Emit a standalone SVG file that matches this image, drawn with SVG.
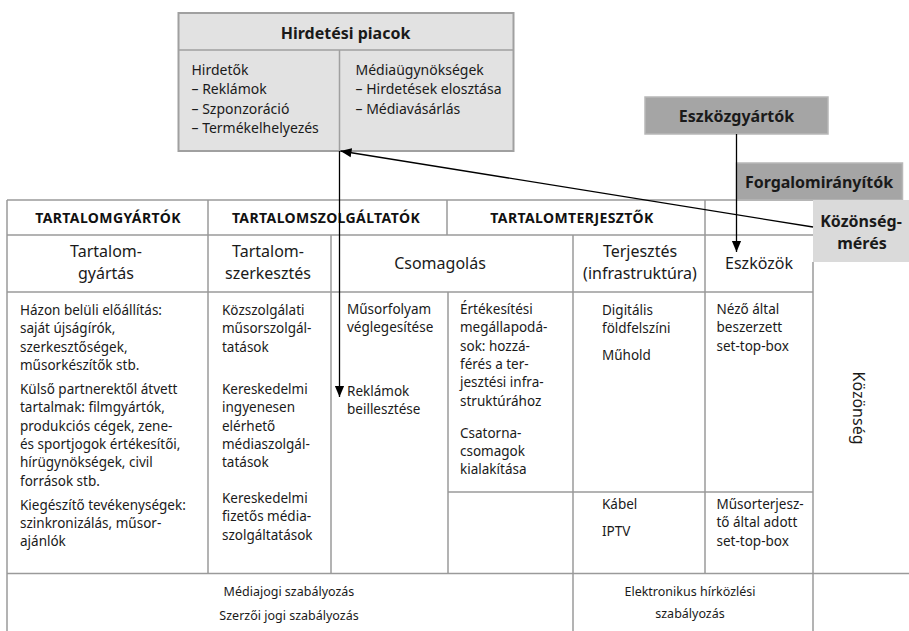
<svg xmlns="http://www.w3.org/2000/svg" width="909" height="631" viewBox="0 0 909 631">
<style>
.t{font-family:"Noto Sans","Liberation Sans",sans-serif;font-size:13.5px;fill:#1a1a1a}
.hb{font-size:14px}
.c{text-anchor:middle}
.b{font-weight:bold;font-size:16px}
.hd{font-family:"Noto Sans","Liberation Sans",sans-serif;font-size:14px;letter-spacing:0.4px;font-weight:bold;fill:#111;text-anchor:middle}
.r2{font-family:"Noto Sans","Liberation Sans",sans-serif;font-size:16px;fill:#1a1a1a;text-anchor:middle}
.bt{font-family:"Noto Sans","Liberation Sans",sans-serif;font-size:12.5px;fill:#1a1a1a;text-anchor:middle}
.g{stroke:#9a9a9a;stroke-width:1.5;fill:none}
.conn{stroke:#000;stroke-width:1.3;fill:none}
.lite{fill:#e2e2e2;stroke:#a0a0a0;stroke-width:2}
.dark{fill:#a5a5a5;stroke:#b8b8b8;stroke-width:1.5}
</style>
<defs>
<marker id="ah" viewBox="0 0 12 12" refX="12" refY="6" markerWidth="11" markerHeight="11" orient="auto" markerUnits="userSpaceOnUse"><path d="M0,1 L12,6 L0,11 z" fill="#000"/></marker>
</defs>
<rect width="909" height="631" fill="#fff"/>

<g id="table-grid">
<path class="g" d="M7,200 H813 M7,200 V631 M7,235 H813 M7,292 H813 M7,573.5 H909 M448,492 H813
M208,200 V573.5 M447,200 V235 M705,200 V573.5 M331,235 V573.5 M573,235 V631 M448,292 V573.5 M813,262 V631"/>
</g>

<g id="hirdetesi-piacok">
<rect class="lite" x="178.5" y="13" width="335" height="138"/>
<path class="g" d="M178.5,50 H513.5 M339.5,50 V151" style="stroke:#a0a0a0"/>
<text class="t b c" x="345.5" y="38.5">Hirdetési piacok</text>
<text class="t hb" x="191.5" y="74.7">Hirdetők</text>
<text class="t hb" x="191.5" y="94.2">– Reklámok</text>
<text class="t hb" x="191.5" y="113.7">– Szponzoráció</text>
<text class="t hb" x="191.5" y="133.2">– Termékelhelyezés</text>
<text class="t hb" x="355.5" y="74.7">Médiaügynökségek</text>
<text class="t hb" x="355.5" y="94.2">– Hirdetések elosztása</text>
<text class="t hb" x="355.5" y="113.7">– Médiavásárlás</text>
</g>

<g id="eszkozgyartok">
<rect class="dark" x="645" y="97" width="183" height="37"/>
<text class="t b c" x="736.5" y="122">Eszközgyártók</text>
</g>

<g id="forgalomiranyitok">
<rect class="dark" x="736.5" y="163" width="166" height="37"/>
<text class="t b c" x="819" y="188">Forgalomirányítók</text>
</g>

<g id="kozonsegmeres">
<rect x="813" y="200" width="96" height="62" fill="#dadada"/>
<text class="t b c" x="861" y="226.5">Közönség-</text>
<text class="t b c" x="862" y="248.5">mérés</text>
</g>

<g id="header-row">
<text class="hd" x="108" y="222.5">TARTALOMGYÁRTÓK</text>
<text class="hd" x="326" y="222.5">TARTALOMSZOLGÁLTATÓK</text>
<text class="hd" x="572" y="222.5">TARTALOMTERJESZTŐK</text>
</g>

<g id="row-activities">
<text class="r2" x="106" y="256.5">Tartalom-</text>
<text class="r2" x="106" y="278.5">gyártás</text>
<text class="r2" x="268" y="256.5">Tartalom-</text>
<text class="r2" x="268" y="278.5">szerkesztés</text>
<text class="r2" x="440" y="268.5">Csomagolás</text>
<text class="r2" x="640" y="256.5">Terjesztés</text>
<text class="r2" x="640" y="278.5">(infrastruktúra)</text>
<text class="r2" x="759" y="268.5">Eszközök</text>
</g>

<g id="col-tartalomgyartas">
<text class="t" x="20" y="315">Házon belüli előállítás:</text>
<text class="t" x="20" y="333.3">saját újságírók,</text>
<text class="t" x="20" y="351.6">szerkesztőségek,</text>
<text class="t" x="20" y="369.9">műsorkészítők stb.</text>
<text class="t" x="20" y="394">Külső partnerektől átvett</text>
<text class="t" x="20" y="412.3">tartalmak: filmgyártók,</text>
<text class="t" x="20" y="430.6">produkciós  cégek, zene-</text>
<text class="t" x="20" y="448.9">és sportjogok  értékesítői,</text>
<text class="t" x="20" y="467.2">hírügynökségek,  civil</text>
<text class="t" x="20" y="485.5">források stb.</text>
<text class="t" x="20" y="509.7">Kiegészítő tevékenységek:</text>
<text class="t" x="20" y="528">szinkronizálás, műsor-</text>
<text class="t" x="20" y="546.3">ajánlók</text>
</g>

<g id="col-tartalomszerkesztes">
<text class="t" x="222" y="315">Közszolgálati</text>
<text class="t" x="222" y="333.3">műsorszolgál-</text>
<text class="t" x="222" y="351.6">tatások</text>
<text class="t" x="222" y="394">Kereskedelmi</text>
<text class="t" x="222" y="412.3">ingyenesen</text>
<text class="t" x="222" y="430.6">elérhető</text>
<text class="t" x="222" y="448.9">médiaszolgál-</text>
<text class="t" x="222" y="467.2">tatások</text>
<text class="t" x="222" y="503">Kereskedelmi</text>
<text class="t" x="222" y="521.3">fizetős média-</text>
<text class="t" x="222" y="539.6">szolgáltatások</text>
</g>

<g id="col-csomagolas-1">
<text class="t" x="347" y="314">Műsorfolyam</text>
<text class="t" x="347" y="332.3">véglegesítése</text>
<text class="t" x="347" y="396">Reklámok</text>
<text class="t" x="347" y="414.3">beillesztése</text>
</g>

<g id="col-csomagolas-2">
<text class="t" x="460" y="314">Értékesítési</text>
<text class="t" x="460" y="332.3">megállapodá-</text>
<text class="t" x="460" y="350.6">sok: hozzá-</text>
<text class="t" x="460" y="368.9">férés a ter-</text>
<text class="t" x="460" y="387.2">jesztési infra-</text>
<text class="t" x="460" y="405.5">struktúrához</text>
<text class="t" x="460" y="437.5">Csatorna-</text>
<text class="t" x="460" y="455.8">csomagok</text>
<text class="t" x="460" y="474.1">kialakítása</text>
</g>

<g id="col-terjesztes">
<text class="t" x="602" y="314.5">Digitális</text>
<text class="t" x="602" y="332.8">földfelszíni</text>
<text class="t" x="602" y="360">Műhold</text>
<text class="t" x="602" y="509">Kábel</text>
<text class="t" x="602" y="536">IPTV</text>
</g>

<g id="col-eszkozok">
<text class="t" x="716.5" y="314">Néző által</text>
<text class="t" x="716.5" y="332.3">beszerzett</text>
<text class="t" x="716.5" y="350.6">set-top-box</text>
<text class="t" x="716.5" y="509">Műsorterjesz-</text>
<text class="t" x="716.5" y="527.3">tő által adott</text>
<text class="t" x="716.5" y="545.6">set-top-box</text>
</g>

<g id="kozonseg">
<text class="r2" transform="translate(858,408) rotate(90)" dy="5.5">Közönség</text>
</g>

<g id="regulation">
<text class="bt" x="289" y="595.5">Médiajogi szabályozás</text>
<text class="bt" x="289" y="619.5">Szerzői jogi szabályozás</text>
<text class="bt" x="690" y="595.5">Elektronikus hírközlési</text>
<text class="bt" x="690" y="617.5">szabályozás</text>
</g>

<g id="connectors">
<line class="conn" x1="813" y1="227" x2="340.5" y2="151" marker-end="url(#ah)"/>
<line class="conn" x1="339.5" y1="151" x2="339.5" y2="397" marker-end="url(#ah)"/>
<line class="conn" x1="736.5" y1="134" x2="736.5" y2="252" marker-end="url(#ah)"/>
</g>
</svg>
